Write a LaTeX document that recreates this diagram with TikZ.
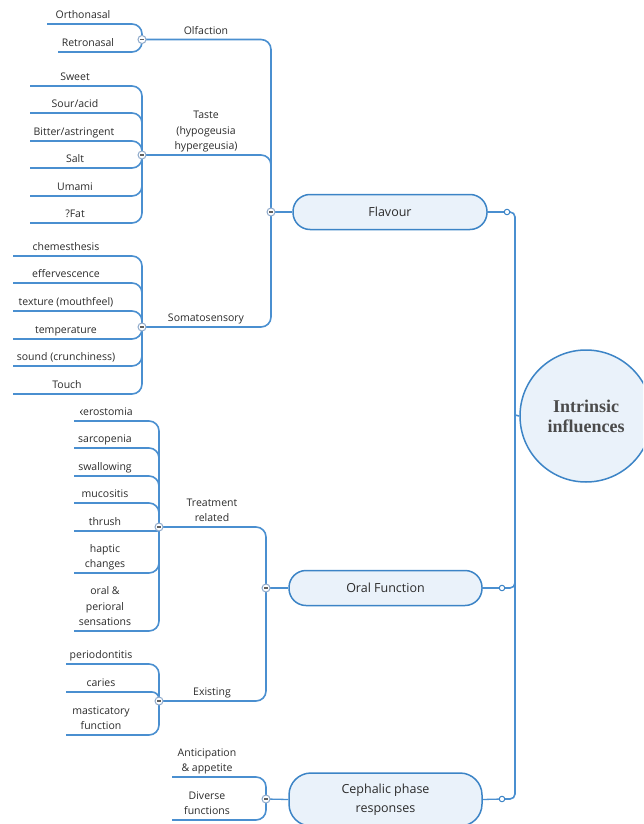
\documentclass[tikz,border=0pt]{standalone}
\usepackage{fontspec}
\setmainfont{Open Sans}
\newfontfamily\serifbold{Liberation Serif}
\usetikzlibrary{backgrounds}
\definecolor{lineblue}{HTML}{4A8FD0}
\definecolor{boxblue}{HTML}{3C84C6}
\definecolor{boxfill}{HTML}{EAF2FA}
\definecolor{minusring}{HTML}{8FAACB}
\definecolor{txt}{HTML}{2B2B2B}
\tikzset{
 conn/.style={draw=lineblue, line width=1.6pt, rounded corners=10pt},
 leaf/.style={anchor=south, inner xsep=0pt, inner ysep=5pt, text depth=0pt, align=center,
   font=\fontsize{10.5}{15.5}\selectfont, text=txt},
 mainbox/.style={draw=boxblue, fill=boxfill, line width=1.5pt, rounded corners=17pt,
   minimum width=193pt, minimum height=35pt, align=center,
   font=\fontsize{12.5}{19}\selectfont, text=txt},
 mcirc/.style={circle, draw=minusring, fill=white, line width=1pt, minimum size=8pt, inner sep=0pt,
   path picture={\draw[txt!75, line width=1.2pt]
     ([xshift=-2pt]path picture bounding box.center) -- ([xshift=2pt]path picture bounding box.center);}},
 endc/.style={circle, draw=boxblue, fill=white, line width=1pt, minimum size=5.5pt, inner sep=0pt},
}
\newcommand\leafnode[7]{%
  \coordinate (#1u) at (#2,#4);
  \node[leaf] (#1) at (#3,#4) {#5};
  \pgfmathsetmacro\myrad{min(10,max(1,abs(#4-#7)-2))}%
  \begin{scope}[on background layer]
    \draw[conn, rounded corners=\myrad pt] (#1u) -| (#6.center);
  \end{scope}
}
\begin{document}
\begin{tikzpicture}[x=1pt,y=-1pt]
\useasboundingbox (0,0) rectangle (643,824);
\clip (0,0) rectangle (643,824);

% centre
\node[circle, draw=boxblue, fill=boxfill, line width=1.5pt, minimum size=132pt, inner sep=0pt,
  align=center, font=\serifbold\bfseries\fontsize{18}{20}\selectfont, text=txt!85] (center) at (586,416) {Intrinsic\\influences};
\coordinate (hub) at (515,415);

% main branches
\node[mainbox, minimum width=194pt] (flav) at (390,212) {Flavour};
\node[mcirc] (flavM) at (271,212) {};
\node[endc] (flavR) at (507,212) {};

\node[mainbox] (oral) at (385.5,588) {Oral Function};
\node[mcirc] (oralM) at (266,588) {};
\node[endc] (oralR) at (502,588) {};

\node[mainbox, minimum height=53pt, rounded corners=22pt] (ceph) at (385.5,799.5) {Cephalic phase\\responses};
\node[mcirc] (cephM) at (266,799) {};
\node[endc] (cephR) at (502,799) {};

% sub-branch minus circles
\node[mcirc] (olfM) at (142,39.5) {};
\node[mcirc] (tasM) at (142,155) {};
\node[mcirc] (somM) at (142,327) {};
\node[mcirc] (trtM) at (159,527) {};
\node[mcirc] (exM) at (159,701) {};

% sub-branch labels
\node[leaf] (olfL) at (206,39.5) {Olfaction};
\node[leaf] (tasL) at (206,155) {Taste\\(hypogeusia\\hypergeusia)};
\node[leaf] (somL) at (206,327) {Somatosensory};
\node[leaf] (trtL) at (212,527) {Treatment\\related};
\node[leaf] (exL) at (212,701) {Existing};

\begin{scope}[on background layer]
  \draw[conn, rounded corners=5pt] (flavR.center) -| (hub);
  \draw[conn, rounded corners=5pt] (oralR.center) -| (hub);
  \draw[conn, rounded corners=5pt] (cephR.center) -| (hub);
  \draw[conn] (hub) -- (center.west);
  \draw[conn, line width=1.3pt] (flav.east) -- (flavR.center);
  \draw[conn, line width=1.3pt] (oral.east) -- (oralR.center);
  \draw[conn, line width=1.3pt] (ceph.east) -- (cephR.center);
  \draw[conn, line width=1.3pt] (flavM.center) -- (flav.west);
  \draw[conn, line width=1.3pt] (oralM.center) -- (oral.west);
  \draw[conn, line width=1.3pt] (cephM.center) -- (ceph.west);
  \draw[conn] (olfM.center) -| (flavM.center);
  \draw[conn] (tasM.center) -| (flavM.center);
  \draw[conn] (somM.center) -| (flavM.center);
  \draw[conn] (trtM.center) -| (oralM.center);
  \draw[conn] (exM.center) -| (oralM.center);
\end{scope}

% Olfaction
\leafnode{orth}{47}{83}{24}{Orthonasal}{olfM}{39.5}
\leafnode{retro}{58}{88}{52}{Retronasal}{olfM}{39.5}
% Taste
\leafnode{sweet}{30}{75}{86}{Sweet}{tasM}{155}
\leafnode{sour}{30}{75}{113}{Sour/acid}{tasM}{155}
\leafnode{bitter}{30}{74}{141}{Bitter/astringent}{tasM}{155}
\leafnode{salt}{30}{75}{168}{Salt}{tasM}{155}
\leafnode{umami}{30}{75}{196}{Umami}{tasM}{155}
\leafnode{fat}{30}{75}{223}{?Fat}{tasM}{155}
% Somatosensory
\leafnode{chem}{13}{66}{256}{chemesthesis}{somM}{327}
\leafnode{eff}{13}{66}{283}{effervescence}{somM}{327}
\leafnode{text}{13}{66}{311}{texture (mouthfeel)}{somM}{327}
\leafnode{temp}{13}{66}{339}{temperature}{somM}{327}
\leafnode{sound}{13}{66}{366}{sound (crunchiness)}{somM}{327}
\leafnode{touch}{13}{67}{394}{Touch}{somM}{327}
% Treatment related
\coordinate (xerou) at (74,421);
\begin{scope}
  \clip (80.5,380) rectangle (150,425);
  \node[leaf] (xero) at (105.3,421) {xerostomia};
\end{scope}
\begin{scope}[on background layer]
  \draw[conn] (xerou) -| (trtM.center);
\end{scope}
\leafnode{sarc}{74}{105}{448}{sarcopenia}{trtM}{527}
\leafnode{swal}{74}{105}{476}{swallowing}{trtM}{527}
\leafnode{muco}{74}{105}{503}{mucositis}{trtM}{527}
\leafnode{thrush}{74}{105}{531}{thrush}{trtM}{527}
\leafnode{haptic}{74}{105}{573}{haptic\\changes}{trtM}{527}
\leafnode{peri}{74}{105}{631}{oral \&\\perioral\\sensations}{trtM}{527}
% Existing
\leafnode{perio}{66}{101}{664}{periodontitis}{exM}{701}
\leafnode{caries}{66}{101}{692}{caries}{exM}{701}
\leafnode{mast}{66}{101}{735}{masticatory\\function}{exM}{701}
% Cephalic
\leafnode{antic}{172}{207}{777}{Anticipation\\\& appetite}{cephM}{799}
\leafnode{diverse}{172}{207}{820}{Diverse\\functions}{cephM}{799}
\end{tikzpicture}
\end{document}
